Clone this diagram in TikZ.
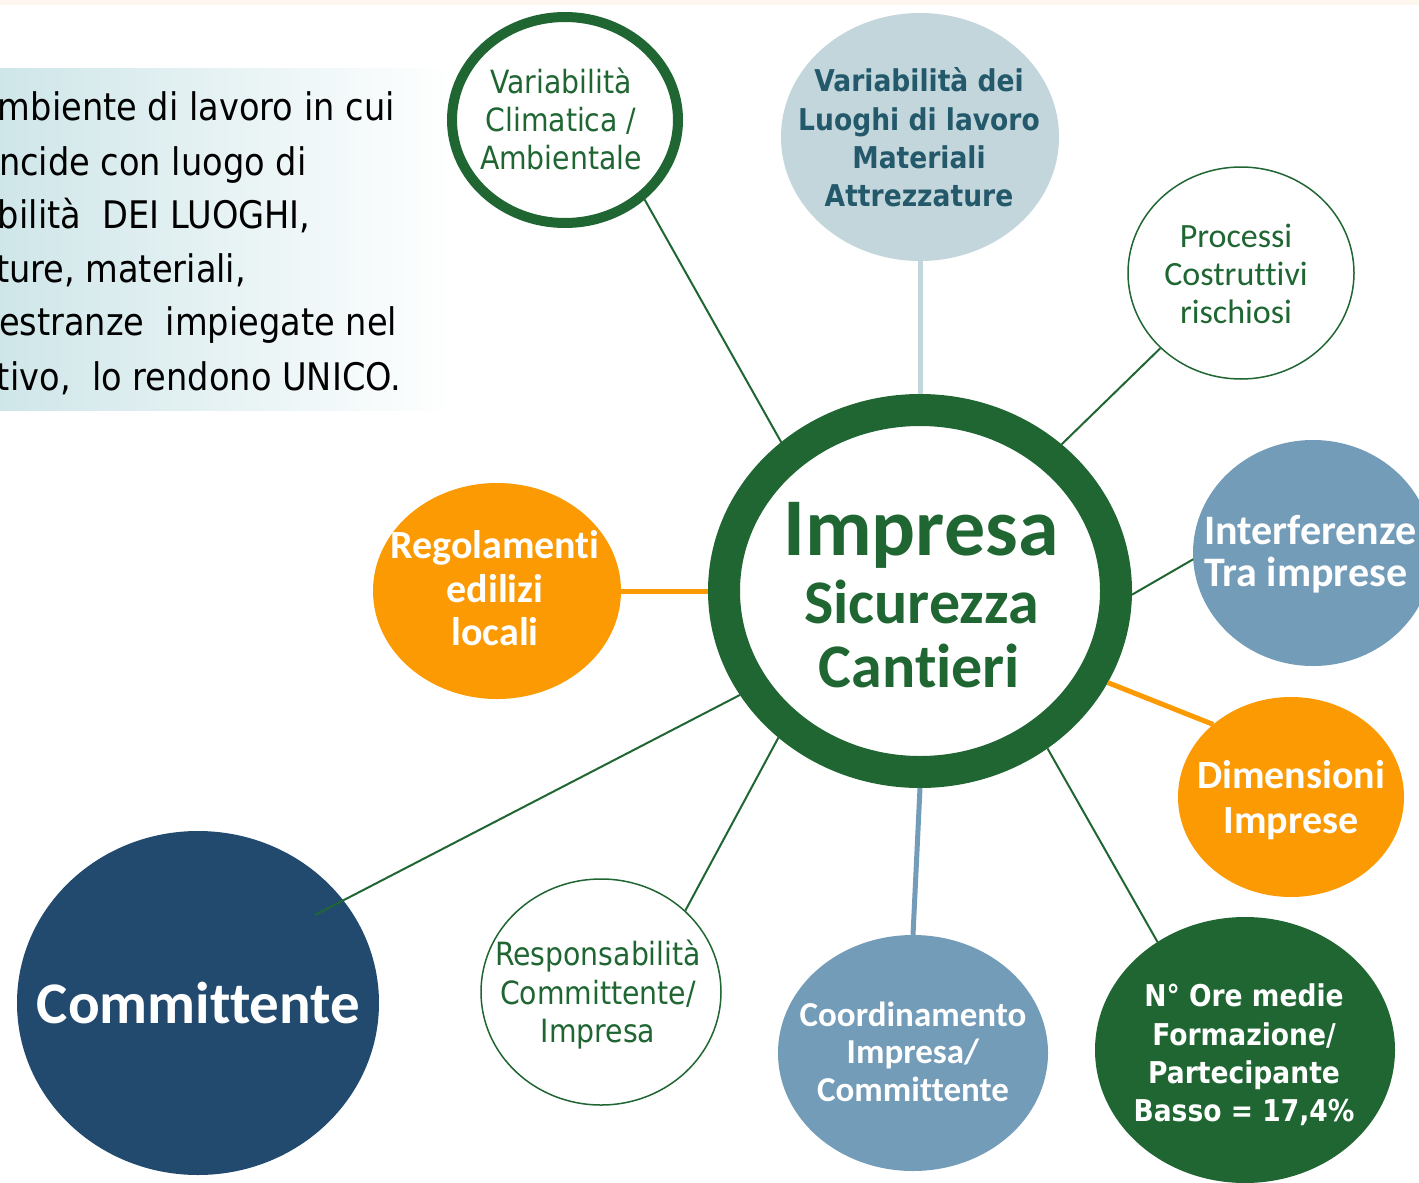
\documentclass[tikz,border=0pt]{standalone}
\usepackage{fontspec}
\usetikzlibrary{shapes.geometric}
\newfontfamily\tahfont[FakeStretch=0.885]{DejaVu Sans}
\newfontfamily\calfont[Ligatures=NoCommon]{Carlito}
\definecolor{dgreen}{HTML}{1F6632}
\definecolor{lblue}{HTML}{C2D6DC}
\definecolor{sblue}{HTML}{739CB9}
\definecolor{orng}{HTML}{FC9A04}
\definecolor{navy}{HTML}{214A6E}
\definecolor{tealtxt}{HTML}{23596B}
\definecolor{boxcol}{HTML}{CFE6E9}
\definecolor{topstrip}{HTML}{FDF7F0}
\tikzset{
  ell/.style={ellipse, inner sep=0pt, outer sep=0pt},
  ringnode/.style={ell, draw=dgreen, fill=white},
  thinlink/.style={draw=dgreen, line width=2pt},
  orlink/.style={draw=orng, line width=5pt},
  bllink/.style={draw=sblue, line width=5pt},
  lblink/.style={draw=lblue, line width=5pt},
  txt/.style={inner sep=0pt, outer sep=0pt, align=center}
}
\begin{document}
\begin{tikzpicture}[x=1pt,y=-1pt]
\useasboundingbox (0,0) rectangle (1419,1183);
\fill[white] (0,0) rectangle (1419,1183);
\fill[topstrip] (0,0) rectangle (1419,5);
\shade[left color=boxcol, right color=white] (0,68) rectangle (455,410);

% text box lines
\node[txt, anchor=base west, font=\tahfont\fontsize{38}{54}\selectfont] (tb1) at (-2,120) {mbiente di lavoro in cui};
\node[txt, anchor=base west, font=\tahfont\fontsize{38}{54}\selectfont] (tb2) at (-1,175) {ncide con luogo di};
\node[txt, anchor=base west, font=\tahfont\fontsize{38}{54}\selectfont] (tb3) at (-2,228) {bilità\ \ DEI LUOGHI,};
\node[txt, anchor=base west, font=\tahfont\fontsize{38}{54}\selectfont] (tb4) at (-4,282) {ture, materiali,};
\node[txt, anchor=base west, font=\tahfont\fontsize{38}{54}\selectfont] (tb5) at (-1,335) {estranze\ \ impiegate nel};
\node[txt, anchor=base west, font=\tahfont\fontsize{38}{54}\selectfont] (tb6) at (-3,390) {tivo,\ \ lo rendono UNICO.};

% shapes
\node[ringnode, line width=10pt, outer sep=5pt, minimum width=226pt, minimum height=206pt] (clim) at (565,120) {};
\node[ell, fill=lblue, minimum width=278pt, minimum height=248pt] (luo) at (920,137) {};
\node[ringnode, line width=1.5pt, outer sep=0.75pt, minimum width=226pt, minimum height=212pt] (proc) at (1241,273) {};
\node[ringnode, line width=32pt, outer sep=16pt, minimum width=392pt, minimum height=362pt] (imp) at (920,591) {};
\node[ell, fill=sblue, minimum width=240pt, minimum height=226pt] (intf) at (1313,553) {};
\node[ell, fill=orng, minimum width=226pt, minimum height=200pt] (dim) at (1291,797) {};
\node[ell, fill=dgreen, minimum width=300pt, minimum height=266pt] (ore) at (1245,1050) {};
\node[ell, fill=sblue, minimum width=270pt, minimum height=236pt] (coord) at (913,1053) {};
\node[ringnode, line width=1.5pt, outer sep=0.75pt, minimum width=240pt, minimum height=226pt] (resp) at (601,992) {};
\node[ell, fill=navy, minimum width=362pt, minimum height=344pt] (comm) at (198,1003) {};
\node[ell, fill=orng, minimum width=248pt, minimum height=216pt] (reg) at (497,591) {};
\coordinate (cmend) at (315,915);

% connectors
\draw[thinlink] (clim.-45) -- (imp.133);
\draw[lblink] (luo.-90) -- (imp.90);
\draw[thinlink] (proc.223) -- (imp.46.4);
\draw[thinlink] (intf.183) -- (imp.-1.6);
\draw[orlink] (dim.137.3) -- (imp.-26.4);
\draw[thinlink] (ore.129.4) -- (imp.-51.6);
\draw[bllink] (coord.90) -- (imp.-90);
\draw[thinlink] (resp.44) -- (imp.226.4);
\draw[thinlink] (cmend) -- (imp.210.5);
\draw[orlink] (reg.0) -- (imp.180);

% texts
\node[txt, text=dgreen, font=\tahfont\fontsize{32}{38}\selectfont] (clim-t) at (561,119) {Variabilità\\Climatica /\\Ambientale};
\node[txt, text=tealtxt, font=\tahfont\bfseries\fontsize{30}{38.3}\selectfont] (luo-t) at (919,137.5) {Variabilità dei\\Luoghi di lavoro\\Materiali\\Attrezzature};
\node[txt, text=dgreen, font=\calfont\fontsize{34}{38}\selectfont] (proc-t) at (1236,274) {Processi\\Costruttivi\\rischiosi};
\node[txt, anchor=base, text=dgreen, font=\calfont\bfseries\fontsize{82}{90}\selectfont] (imp-t1) at (921,555) {Impresa};
\node[txt, anchor=base, text=dgreen, font=\calfont\bfseries\fontsize{62}{66}\selectfont] (imp-t2) at (921.5,623) {Sicurezza};
\node[txt, anchor=base, text=dgreen, font=\calfont\bfseries\fontsize{62}{66}\selectfont] (imp-t3) at (919.5,687) {Cantieri};
\node[txt, anchor=west, align=left, text=white, font=\calfont\bfseries\fontsize{42}{42}\selectfont] (intf-t) at (1204,554.5) {Interferenze\\Tra imprese};
\node[txt, text=white, font=\calfont\bfseries\fontsize{40}{45}\selectfont] (dim-t) at (1291,800) {Dimensioni\\Imprese};
\node[txt, text=white, font=\tahfont\bfseries\fontsize{30}{38.3}\selectfont] (ore-t) at (1244,1055) {N° Ore medie\\Formazione/\\Partecipante\\Basso = 17,4\%};
\node[txt, text=white, font=\calfont\bfseries\fontsize{35}{37.5}\selectfont] (coord-t) at (913,1051.5) {Coordinamento\\Impresa/\\Committente};
\node[txt, text=dgreen, font=\tahfont\fontsize{32}{38.5}\selectfont] (resp-t) at (598,995) {Responsabilità\\Committente/\\Impresa};
\node[txt, anchor=base, text=white, font=\calfont\bfseries\fontsize{59}{64}\selectfont] (comm-t) at (198.5,1023) {Committente};
\node[txt, text=white, font=\calfont\bfseries\fontsize{40}{43.5}\selectfont] (reg-t) at (495,588.5) {Regolamenti\\edilizi\\locali};
\end{tikzpicture}
\end{document}
